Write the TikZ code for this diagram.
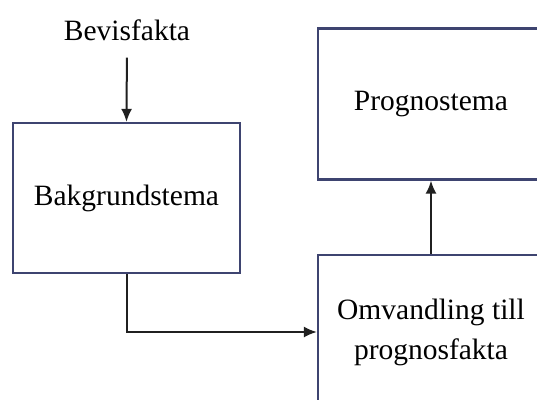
\documentclass[tikz,border=0pt]{standalone}
\usepackage{fontspec}
\setmainfont{Liberation Serif}
\usetikzlibrary{arrows.meta}
\definecolor{boxline}{HTML}{3E4470}
\definecolor{conn}{HTML}{202020}
\tikzset{
  box/.style={draw=boxline, line width=2.2pt, minimum width=227pt, minimum height=150pt, inner sep=0pt, align=center, font=\fontsize{29.5}{40}\selectfont},
  lbl/.style={font=\fontsize{29.5}{40}\selectfont, inner sep=0pt},
  arr/.style={draw=conn, line width=2pt, -{Latex[length=13pt,width=11pt]}}
}
\begin{document}
\begin{tikzpicture}[x=1pt,y=-1pt]
\useasboundingbox (0,0) rectangle (537,399);
\clip (0,0) rectangle (537,399);
\fill[white] (0,0) rectangle (537,399);
\node[lbl] (bev) at (127,30) {Bevisfakta};
\node[box] (bak) at (126.5,198) {Bakgrundstema};
\node[box, minimum width=226pt, minimum height=151pt] (prog) at (431,104) {Prognostema};
\node[box, minimum width=226pt, minimum height=154pt] (omv) at (431,332) {Omvandling till\\prognosfakta};
\draw[arr, shorten <=17pt] (bev.south) -- (bak.north);
\draw[arr] (bak.south) |- (omv.west);
\draw[arr] (omv.north) -- (prog.south);
\end{tikzpicture}
\end{document}
